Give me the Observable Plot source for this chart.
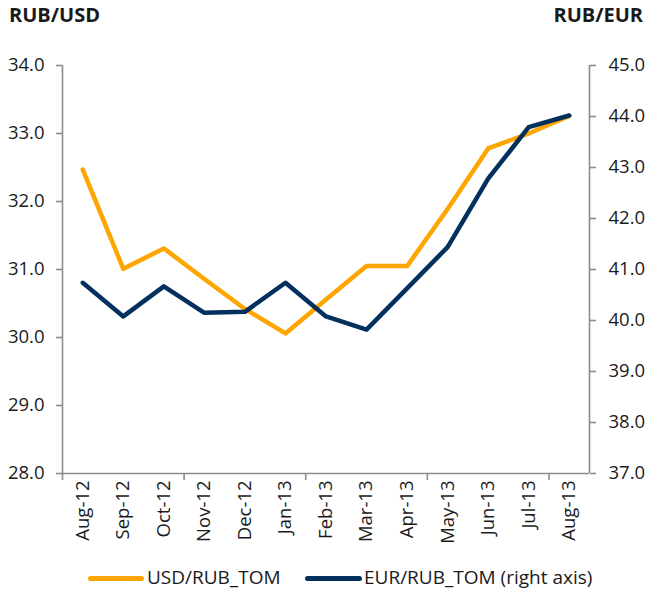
<!DOCTYPE html>
<html>
<head>
<meta charset="utf-8">
<script src="https://cdn.jsdelivr.net/npm/d3@7"></script>
<script src="https://cdn.jsdelivr.net/npm/@observablehq/plot@0.6"></script>
<style>
  html, body { margin: 0; padding: 0; background: #fff; }
  body { font-family: "Open Sans", sans-serif; color: #1a1a1a; width: 647px; }
  #head { position: relative; height: 36px; }
  #head span { position: absolute; top: 5px; font-weight: bold; font-size: 20px; line-height: 1; }
  #legend { position: relative; height: 38px; font-size: 19px; }
  #legend .sw { position: absolute; top: 19.5px; height: 5px; border-radius: 3px; }
  #legend .lb { position: absolute; top: 9px; line-height: 1.3; }
</style>
</head>
<body>
<div id="head"><span style="left:9px">RUB/USD</span><span style="right:4px">RUB/EUR</span></div>
<div id="chart"></div>
<div id="legend">
  <span class="sw" style="left:88px;width:56px;background:#FFA500"></span>
  <span class="lb" style="left:147px">USD/RUB_TOM</span>
  <span class="sw" style="left:305px;width:57px;background:#04305E"></span>
  <span class="lb" style="left:364px">EUR/RUB_TOM (right axis)</span>
</div>
<script>
const months = ["Aug-12","Sep-12","Oct-12","Nov-12","Dec-12","Jan-13","Feb-13","Mar-13","Apr-13","May-13","Jun-13","Jul-13","Aug-13"];
const usdRub = [32.47, 31.01, 31.31, 30.86, 30.42, 30.06, 30.56, 31.05, 31.05, 31.89, 32.78, 33.00, 33.26];
const eurRub = [40.74, 40.08, 40.67, 40.15, 40.17, 40.74, 40.08, 39.82, 40.63, 41.44, 42.78, 43.79, 44.02];
const usdTicks = [28, 29, 30, 31, 32, 33, 34];
const eurTicks = [37, 38, 39, 40, 41, 42, 43, 44, 45];

// map right-axis (EUR) values onto the left (USD) scale
const toUsd = e => 28 + (e - 37) * (6 / 8);
const fromUsd = u => 37 + (u - 28) * (8 / 6);

const data = months.map((m, i) => ({i, m, usd: usdRub[i], eur: eurRub[i]}));
const gray = "#8c8c8c";
const ink = "#1a1a1a";

const chart = Plot.plot({
  width: 647,
  height: 520,
  marginLeft: 62,
  marginRight: 58,
  marginTop: 29,
  marginBottom: 83,
  style: {fontFamily: "Open Sans, sans-serif", fontSize: "18.5px", color: ink, background: "#fff"},
  x: {type: "linear", domain: [-0.5, months.length - 0.5]},
  y: {type: "linear", domain: [28, 34]},
  marks: [
    Plot.ruleY([28], {stroke: gray, strokeWidth: 1.6}),
    Plot.ruleX([-0.5, months.length - 0.5], {stroke: gray, strokeWidth: 1.6}),
    Plot.axisY({anchor: "left", ticks: usdTicks, tickSize: 6, tickPadding: 12, stroke: gray, strokeWidth: 1.6,
      fill: ink, fontSize: 18.5, tickFormat: d => d.toFixed(1), label: null}),
    Plot.axisY({anchor: "right", ticks: eurTicks.map(toUsd), tickSize: 6, tickPadding: 13, stroke: gray, strokeWidth: 1.6,
      fill: ink, fontSize: 18.5, tickFormat: d => fromUsd(d).toFixed(1), label: null}),
    Plot.axisX({anchor: "bottom", ticks: [-0.5, 2.5, 5.5, 8.5, 11.5], tickSize: 7, stroke: gray, strokeWidth: 1.6,
      tickFormat: () => "", label: null}),
    Plot.axisX({anchor: "bottom", ticks: d3.range(months.length), tickSize: 0, tickPadding: 7, tickRotate: -90,
      fill: ink, fontSize: 18.5, tickFormat: i => months[i], label: null}),
    Plot.line(data, {x: "i", y: "usd", stroke: "#FFA500", strokeWidth: 4.5}),
    Plot.line(data, {x: "i", y: d => toUsd(d.eur), stroke: "#04305E", strokeWidth: 4.5})
  ]
});
document.getElementById("chart").appendChild(chart);
</script>
</body>
</html>
